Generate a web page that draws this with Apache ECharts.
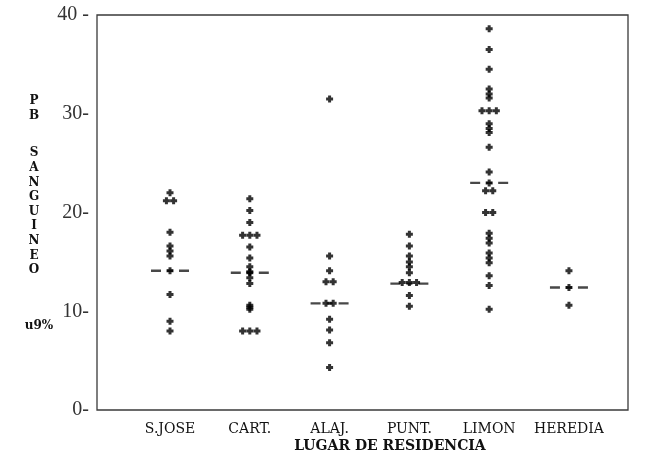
<!DOCTYPE html>
<html>
<head>
<meta charset="utf-8">
<script src="https://cdn.jsdelivr.net/npm/echarts@6/dist/echarts.min.js"></script>
<style>html,body{margin:0;padding:0;background:#fff}#c{width:645px;height:455px}</style>
</head>
<body>
<div id="c"></div>
<script>
const categories = ['S.JOSE', 'CART.', 'ALAJ.', 'PUNT.', 'LIMON', 'HEREDIA'];
const sJose   = [22.0, 21.2, 21.2, 18.0, 16.6, 16.1, 15.6, 14.1, 11.7, 9.0, 8.0];
const cart    = [21.4, 20.2, 19.0, 17.7, 17.7, 17.7, 16.5, 15.4, 14.5, 14.0, 13.9, 13.4, 12.8, 10.6, 10.4, 10.2, 8.0, 8.0, 8.0];
const alaj    = [31.5, 15.6, 14.1, 13.0, 13.0, 10.8, 10.8, 9.2, 8.1, 6.8, 4.3];
const punt    = [17.8, 16.6, 15.6, 15.0, 14.5, 13.9, 12.9, 12.9, 12.9, 11.6, 10.5];
const limon   = [38.6, 36.5, 34.5, 32.5, 32.0, 31.6, 30.3, 30.3, 30.3, 29.0, 28.5, 28.1, 26.6, 24.1, 23.0, 22.2, 22.2, 20.0, 20.0, 17.9, 17.4, 16.9, 15.9, 15.4, 14.9, 13.6, 12.6, 10.2];
const heredia = [14.1, 12.4, 10.6];
const medians = [14.1, 13.9, 10.8, 12.8, 23.0, 12.4];
const yTickLabels = {0: '0-', 10: '10-', 20: '20-', 30: '30-', 40: '40 -'};

const groups = [sJose, cart, alaj, punt, limon, heredia];
const points = [];
groups.forEach((vals, k) => {
  const cnt = {}, seen = {};
  vals.forEach(v => { cnt[v] = (cnt[v] || 0) + 1; });
  vals.forEach(v => {
    const n = cnt[v];
    const i = (seen[v] = (seen[v] || 0) + 1) - 1;
    points.push([k + (i - (n - 1) / 2) * 0.09, v]);
  });
});
const medianData = medians.map((m, k) => [k, m]);

const serif = '"DejaVu Serif", "Liberation Serif", serif';
const chart = echarts.init(document.getElementById('c'));
chart.setOption({
  animation: false,
  backgroundColor: '#fff',
  grid: { left: 97, right: 17, top: 15, bottom: 45, show: true, borderColor: '#3a3a3a', borderWidth: 1.3 },
  xAxis: {
    type: 'value', min: -0.915, max: 5.74,
    splitLine: { show: false },
    axisLine: { show: false },
    axisTick: { show: false },
    axisLabel: {
      customValues: [0, 1, 2, 3, 4, 5],
      formatter: v => categories[Math.round(v)],
      fontFamily: serif, fontSize: 14, color: '#111', margin: 12
    }
  },
  yAxis: {
    type: 'value', min: 0, max: 40, interval: 10,
    splitLine: { show: false },
    axisLine: { show: false },
    axisTick: { show: false },
    axisLabel: {
      formatter: v => yTickLabels[v],
      fontFamily: '"Liberation Serif", serif', fontSize: 20, color: '#333', margin: 8
    }
  },
  graphic: [
    { type: 'text', style: { x: 34, y: 94, text: 'P\nB', font: 'bold 12px ' + serif, align: 'center', verticalAlign: 'top', lineHeight: 14.6, fill: '#111' } },
    { type: 'text', style: { x: 34, y: 146, text: 'S\nA\nN\nG\nU\nI\nN\nE\nO', font: 'bold 12px ' + serif, align: 'center', verticalAlign: 'top', lineHeight: 14.6, fill: '#111' } },
    { type: 'text', style: { x: 39, y: 326, text: 'u9%', font: 'bold 12px ' + serif, align: 'center', verticalAlign: 'middle', fill: '#111' } },
    { type: 'text', style: { x: 390, y: 446, text: 'LUGAR DE RESIDENCIA', font: 'bold 14px ' + serif, align: 'center', verticalAlign: 'middle', fill: '#111' } }
  ],
  series: [
    {
      type: 'scatter', data: medianData, z: 2,
      symbol: 'path://M0,0h10v2h-10z M16,0h6v2h-6z M28,0h10v2h-10z',
      symbolSize: [38, 2.4],
      itemStyle: { color: '#1a1a1a' }
    },
    {
      type: 'scatter', data: points, z: 3,
      symbol: 'path://M2,0h3v2h2v3h-2v2h-3v-2h-2v-3h2z',
      symbolSize: 7,
      itemStyle: { color: '#000' }
    }
  ]
});
</script>
</body>
</html>
